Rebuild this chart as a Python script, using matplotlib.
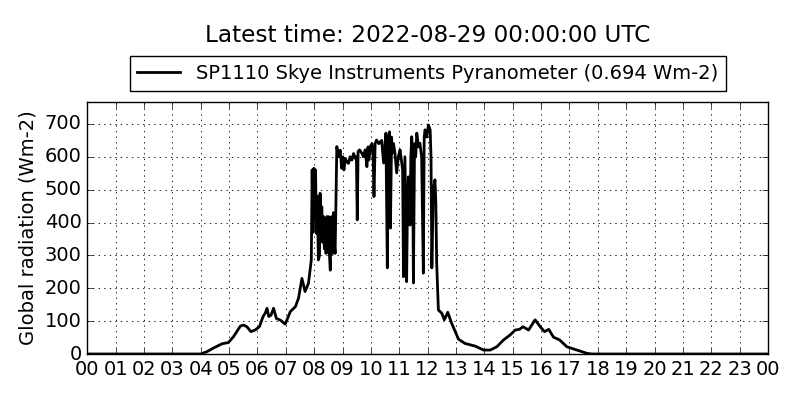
import numpy as np
import matplotlib
matplotlib.use('Agg')
import matplotlib.pyplot as plt

plt.style.use('classic')

# czas w godzinach (UTC), 10 punktow na wiersz
godziny = [
    0.0, 4.0, 4.22, 4.45, 4.75, 4.98, 5.16, 5.4, 5.51, 5.63,
    5.77, 5.92, 6.07, 6.2, 6.28, 6.34, 6.4, 6.48, 6.57, 6.67,
    6.81, 6.98, 7.16, 7.34, 7.45, 7.57, 7.68, 7.8, 7.9, 7.93,
    7.96, 7.99, 8.02, 8.05, 8.08, 8.11, 8.15, 8.19, 8.21, 8.24,
    8.27, 8.3, 8.33, 8.36, 8.39, 8.42, 8.45, 8.48, 8.51, 8.54,
    8.57, 8.59, 8.62, 8.65, 8.68, 8.71, 8.74, 8.8, 8.86, 8.92,
    8.97, 9.01, 9.05, 9.1, 9.15, 9.21, 9.27, 9.33, 9.39, 9.45,
    9.49, 9.52, 9.55, 9.6, 9.68, 9.74, 9.8, 9.86, 9.9, 9.93,
    9.98, 10.04, 10.08, 10.11, 10.15, 10.2, 10.28, 10.38, 10.45, 10.5,
    10.53, 10.58, 10.62, 10.66, 10.69, 10.73, 10.76, 10.8, 10.85, 10.91,
    10.97, 11.03, 11.09, 11.12, 11.15, 11.2, 11.26, 11.29, 11.32, 11.35,
    11.38, 11.41, 11.44, 11.47, 11.5, 11.54, 11.58, 11.62, 11.68, 11.73,
    11.79, 11.85, 11.88, 11.91, 11.97, 12.03, 12.09, 12.12, 12.15, 12.2,
    12.26, 12.29, 12.32, 12.38, 12.5, 12.59, 12.71, 12.85, 13.09, 13.32,
    13.68, 13.97, 14.21, 14.44, 14.68, 14.91, 15.09, 15.24, 15.36, 15.56,
    15.79, 15.97, 16.12, 16.27, 16.44, 16.65, 16.91, 17.26, 17.62, 17.8,
    24.0,
]
# promieniowanie globalne (Wm-2)
promieniowanie = [
    0, 0, 7, 18, 31, 35, 53, 85, 88, 83,
    68, 73, 83, 114, 125, 139, 114, 118, 139, 108,
    103, 91, 129, 144, 170, 230, 190, 215, 286, 560,
    370, 565, 420, 560, 367, 480, 286, 300, 489, 400,
    448, 340, 418, 320, 410, 306, 418, 310, 418, 300,
    255, 400, 418, 306, 430, 337, 306, 631, 600, 620,
    565, 600, 560, 595, 585, 580, 600, 590, 610, 595,
    600, 408, 616, 621, 611, 600, 621, 570, 630, 590,
    631, 640, 600, 479, 640, 651, 640, 650, 581, 640,
    672, 262, 660, 676, 383, 660, 611, 640, 611, 551,
    600, 621, 580, 560, 235, 600, 220, 450, 539, 500,
    392, 600, 661, 600, 216, 640, 600, 672, 630, 641,
    600, 246, 660, 682, 660, 697, 682, 600, 262, 500,
    530, 460, 277, 134, 124, 104, 127, 93, 45, 32,
    24, 12, 12, 22, 43, 58, 73, 75, 83, 73,
    104, 83, 68, 75, 51, 43, 22, 12, 2, 0,
    0,
]
etykiety_godzin = ["%02d" % (h % 24) for h in range(25)]

nazwa_serii = "SP1110 Skye Instruments Pyranometer (0.694 Wm-2)"
tytul = "Latest time: 2022-08-29 00:00:00 UTC"

fig = plt.figure(figsize=(8, 4), dpi=100, facecolor='white')
ax = fig.add_axes([0.109, 0.115, 0.851, 0.63])
ax.set_facecolor('white')

ax.plot(godziny, promieniowanie, color='black', linewidth=2.0, label=nazwa_serii)

ax.set_xlim(0, 24)
ax.set_ylim(0, max(promieniowanie) * 1.1)
ax.set_xticks(range(25))
ax.set_xticklabels(etykiety_godzin, fontsize=14)
ax.set_yticks(range(0, 800, 100))
ax.tick_params(axis='y', labelsize=14)
ax.set_ylabel("Global radiation (Wm-2)", fontsize=14)
ax.grid(True, color='black', linestyle=':', linewidth=0.6)

ax.legend(loc='lower center', bbox_to_anchor=(0.5, 1.045), fontsize=14,
          fancybox=False, framealpha=1, borderaxespad=0, numpoints=1,
          handlelength=2.2)
fig.text(0.534, 0.912, tytul, ha='center', va='center', fontsize=16.7)

fig.savefig("out.png", dpi=100, facecolor='white')
